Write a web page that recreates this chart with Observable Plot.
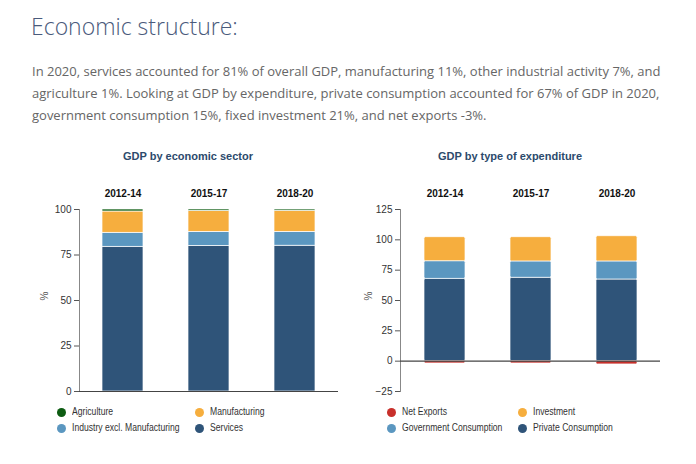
<!DOCTYPE html>
<html><head><meta charset="utf-8">
<script src="https://cdn.jsdelivr.net/npm/d3@7"></script>
<script src="https://cdn.jsdelivr.net/npm/@observablehq/plot@0.6"></script>
<style>
body{margin:0;background:#fff;}
#root{position:relative;width:696px;height:464px;overflow:hidden;font-family:"Liberation Sans",Arial,sans-serif;}
.title{position:absolute;left:31px;top:10px;font-family:"Open Sans",sans-serif;font-weight:300;font-size:23px;color:#4a5a7b;white-space:nowrap}
.para{position:absolute;left:32px;top:60px;font-family:"Open Sans",sans-serif;font-size:13px;line-height:22px;color:#666;white-space:nowrap}
.sub{position:absolute;top:150px;font-weight:bold;font-size:11px;color:#2c4a6c;transform:translateX(-50%);white-space:nowrap}
.chart{position:absolute;top:180px}
.li{position:absolute;font-family:"Liberation Sans",Arial,sans-serif;font-size:10px;color:#333;white-space:nowrap;line-height:12px;transform:scaleX(0.86);transform-origin:0 50%}
.dot{position:absolute;width:9px;height:9px;border-radius:50%;}
</style></head>
<body><div id="root">
<div class="title">Economic structure:</div>
<div class="para">In 2020, services accounted for 81% of overall GDP, manufacturing 11%, other industrial activity 7%, and<br>agriculture 1%. Looking at GDP by expenditure, private consumption accounted for 67% of GDP in 2020,<br>government consumption 15%, fixed investment 21%, and net exports -3%.</div>
<div class="sub" style="left:188px">GDP by economic sector</div>
<div class="sub" style="left:510px">GDP by type of expenditure</div>
</div>
<script>
const periods = ["2012-14", "2015-17", "2018-20"];

// GDP by economic sector (%)
const sectorSeries = ["Services", "Industry excl. Manufacturing", "Manufacturing", "Agriculture"];
const services = [79.5, 80.0, 80.1];
const industry = [7.7, 7.7, 7.6];
const manufacturing = [11.7, 11.5, 11.6];
const agriculture = [1.1, 0.8, 0.7];
const sectorColors = ["#2f5479", "#5b97c0", "#f6ae3e", "#0d5c12"];
const sectorLegendOrder = ["Agriculture", "Manufacturing", "Industry excl. Manufacturing", "Services"];
const sectorTicks = [0, 25, 50, 75, 100];

// GDP by type of expenditure (%)
const expSeries = ["Private Consumption", "Government Consumption", "Investment", "Net Exports"];
const privateCons = [67.8, 68.7, 67.3];
const govCons = [14.6, 13.5, 14.9];
const investment = [19.8, 20.0, 20.8];
const netExports = [-1.9, -1.9, -2.7];
const expColors = ["#2f5479", "#5b97c0", "#f6ae3e", "#c8302b"];
const expLegendOrder = ["Net Exports", "Investment", "Government Consumption", "Private Consumption"];
const expTicks = [-25, 0, 25, 50, 75, 100, 125];

function rows(series, arrays) {
  const out = [];
  series.forEach((s, i) => periods.forEach((p, j) => out.push({period: p, series: s, value: arrays[i][j]})));
  return out;
}
const sectorData = rows(sectorSeries, [services, industry, manufacturing, agriculture]);
const expData = rows(expSeries, [privateCons, govCons, investment, netExports]);

function chart(data, series, colors, domain, ticks, marginLeft, marginRight, rx, labelDx) {
  return Plot.plot({
    width: 348, height: 220,
    marginLeft, marginRight, marginTop: 29, marginBottom: 9,
    style: {fontFamily: "'Liberation Sans', Arial, sans-serif", fontSize: "10px", color: "#333", background: "transparent"},
    x: {domain: periods, paddingInner: 0.525, paddingOuter: 0.2625, axis: null},
    y: {domain, ticks, label: null, axis: null},
    color: {domain: series, range: colors},
    marks: [
      Plot.axisX({anchor: "top", tickSize: 0, tickPadding: 13, fontWeight: "bold", fill: "#111", label: null}),
      Plot.axisY({anchor: "left", ticks, tickSize: 5, tickPadding: 3, label: null, stroke: "#555"}),
      Plot.frame({anchor: "left", stroke: "#888"}),
      Plot.barY(data, {x: "period", y: "value", fill: "series", stroke: "white", strokeWidth: 0.7, rx}),
      Plot.ruleY([0], {stroke: "#444", strokeWidth: 1.2}),
      Plot.text(["%"], {frameAnchor: "left", dx: labelDx, rotate: -90, fill: "#555", fontSize: 10})
    ]
  });
}

const root = document.getElementById("root");
const c1 = chart(sectorData, sectorSeries, sectorColors, [0, 100], sectorTicks, 79, 10, 0, -35);
c1.classList.add("chart"); c1.style.left = "0px";
root.appendChild(c1);
const c2 = chart(expData, expSeries, expColors, [-25, 125], expTicks, 52, 36, 1.5, -32);
c2.classList.add("chart"); c2.style.left = "348px";
root.appendChild(c2);

function legend(order, series, colors, x0, x1) {
  order.forEach((s, i) => {
    const cx = i % 2 === 0 ? x0 : x1;
    const cy = i < 2 ? 412 : 428;
    const d = document.createElement("div");
    d.className = "dot";
    d.style.left = (cx - 4.5) + "px"; d.style.top = (cy - 4.5) + "px";
    d.style.background = colors[series.indexOf(s)];
    root.appendChild(d);
    const t = document.createElement("div");
    t.className = "li"; t.textContent = s;
    t.style.left = (cx + 11) + "px"; t.style.top = (cy - 6) + "px";
    root.appendChild(t);
  });
}
legend(sectorLegendOrder, sectorSeries, sectorColors, 61, 199);
legend(expLegendOrder, expSeries, expColors, 391, 522);
</script>
</body></html>
